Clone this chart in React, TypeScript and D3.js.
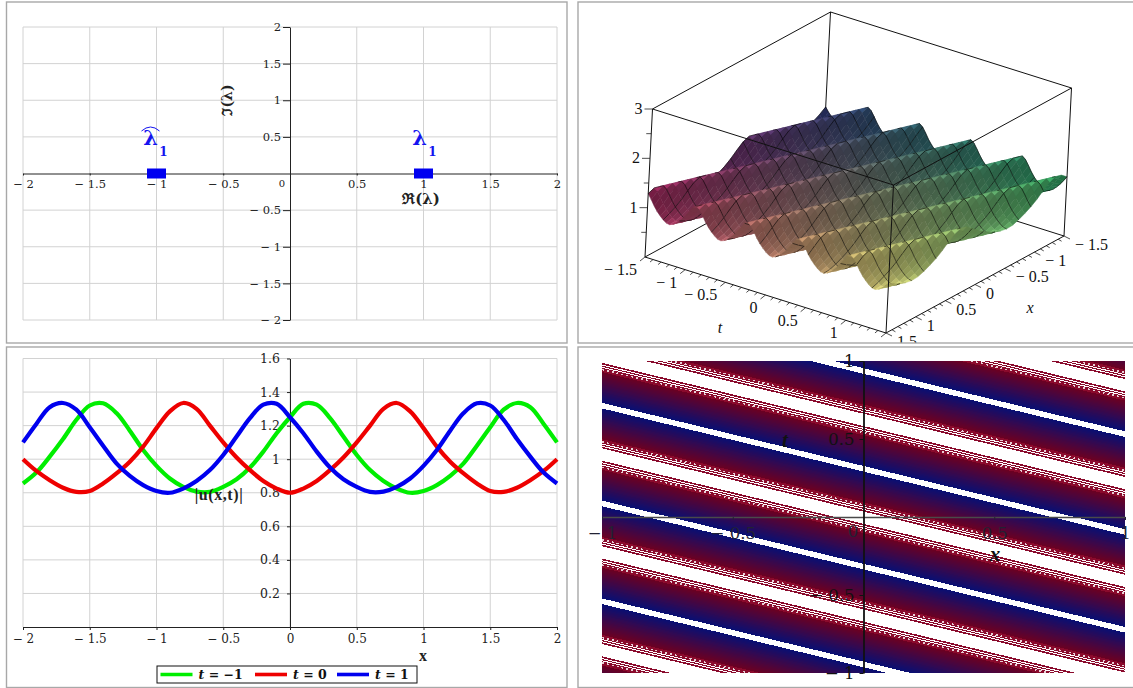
import React from "react";
import * as d3 from "d3";

// panel 1: eigenvalues in the complex plane
const planeTicks = [-2, -1.5, -1, -0.5, 0.5, 1, 1.5, 2];
const eigenRe = [-1, 1];
const eigenIm = [0, 0];

// panel 3: |u(x,t)|, x step 0.1
const xSamples = d3.range(41).map((i) => (i - 20) / 10);
const uGreen = [
  0.855, 0.92, 1.015, 1.12, 1.235, 1.32, 1.333, 1.275, 1.17, 1.055, 0.96, 0.885, 0.835, 0.807,
  0.805, 0.835, 0.88, 0.95, 1.045, 1.155, 1.25, 1.33, 1.325, 1.245, 1.135, 1.025, 0.935, 0.87,
  0.825, 0.8, 0.81, 0.845, 0.9, 0.975, 1.08, 1.19, 1.295, 1.335, 1.31, 1.21, 1.1,
];
const uRed = [
  1.0, 0.93, 0.875, 0.83, 0.805, 0.81, 0.855, 0.915, 0.985, 1.075, 1.185, 1.285, 1.335, 1.3, 1.2,
  1.1, 1.01, 0.935, 0.87, 0.825, 0.8, 0.825, 0.87, 0.935, 1.01, 1.1, 1.2, 1.3, 1.335, 1.285,
  1.185, 1.075, 0.985, 0.915, 0.855, 0.81, 0.805, 0.83, 0.875, 0.93, 1.0,
];
const uBlue = [
  1.1, 1.21, 1.31, 1.335, 1.295, 1.19, 1.08, 0.975, 0.9, 0.845, 0.81, 0.8, 0.825, 0.87, 0.935,
  1.025, 1.135, 1.245, 1.325, 1.33, 1.25, 1.155, 1.045, 0.95, 0.88, 0.835, 0.805, 0.807, 0.835,
  0.885, 0.96, 1.055, 1.17, 1.275, 1.333, 1.32, 1.235, 1.12, 1.015, 0.92, 0.855,
];
const curveTicksX = [-2, -1.5, -1, -0.5, 0, 0.5, 1, 1.5, 2];
const curveTicksY = [0.2, 0.4, 0.6, 0.8, 1, 1.2, 1.4, 1.6];
const legendLabels = ["−1", "0", "1"];
const legendColours = ["#00ee00", "#ee0000", "#0000ee"];

// panel 2: one wave cycle of the surface (grid lines of the wave, 16 steps across a ridge)
const surfaceCycle = [0.8, 0.825, 0.87, 0.935, 1.01, 1.1, 1.2, 1.3, 1.335, 1.285, 1.185, 1.075, 0.985, 0.915, 0.855, 0.81];
const surfaceXStep = 0.1;
const surfaceTStep = 0.04;
const surfaceCycleStart = 11;
const boxTicksT = [-1.5, -1, -0.5, 0, 0.5, 1];
const boxTicksX = [-1.5, -1, -0.5, 0, 0.5, 1, 1.5];
const boxTicksZ = [1, 2, 3];
// colours at t-/x-, t-/x+, t+/x-, t+/x+
const cornerColours = ["#2f3a78", "#a5285f", "#2fa765", "#dcd878"];

// panel 4: contour stripes, t of each thin white crest at x = -1
const crestT = [-1.167, -0.54, 0.087, 0.714, 1.341, 1.968];
const crestSlope = 0.405;
const gradientEdges = [0.018, 0.215];
const fringeEdge = 0.274;
const fringeWhite = [0.232, 0.246, 0.26];
const contourTicks = [-1, -0.5, 0.5, 1];

const fmt = (d: d3.NumberValue) => {
  const v = +d;
  return v < 0 ? `− ${Math.abs(v)}` : `${v}`;
};

const serif = "'DejaVu Serif', serif";
const liberation = "'Liberation Serif', serif";

function frame(svg: any, x: number, y: number, w: number, h: number) {
  svg
    .append("rect")
    .attr("x", x)
    .attr("y", y)
    .attr("width", w)
    .attr("height", h)
    .attr("fill", "none")
    .attr("stroke", "#a8a8a8")
    .attr("stroke-width", 1.4);
}

function grid(g: any, xs: number[], ys: number[], x: any, y: any) {
  const [x0, x1] = x.range();
  const [y0, y1] = y.range();
  xs.forEach((v) =>
    g.append("line").attr("x1", x(v)).attr("x2", x(v)).attr("y1", y0).attr("y2", y1).attr("stroke", "#d2d2d2").attr("stroke-width", 1)
  );
  ys.forEach((v) =>
    g.append("line").attr("x1", x0).attr("x2", x1).attr("y1", y(v)).attr("y2", y(v)).attr("stroke", "#d2d2d2").attr("stroke-width", 1)
  );
}

function styleAxis(a: any, family: string, size: number, colour = "#222") {
  a.selectAll("path").attr("stroke", colour);
  a.selectAll("line").attr("stroke", colour);
  a.selectAll("text").attr("font-family", family).attr("font-size", size).attr("fill", colour);
}

function drawPlane(svg: any) {
  const x = d3.scaleLinear().domain([-2, 2]).range([23, 557]);
  const y = d3.scaleLinear().domain([-2, 2]).range([320, 27]);
  const g = svg.append("g");
  grid(g, planeTicks, planeTicks, x, y);

  const ax = g
    .append("g")
    .attr("transform", `translate(0,${y(0)})`)
    .call(d3.axisBottom(x).tickValues(planeTicks).tickFormat(fmt).tickSize(2).tickSizeOuter(0).tickPadding(4));
  styleAxis(ax, serif, 11.5);
  const ay = g
    .append("g")
    .attr("transform", `translate(${x(0)},0)`)
    .call(d3.axisLeft(y).tickValues(planeTicks).tickFormat(fmt).tickSize(7).tickSizeOuter(0).tickPadding(2));
  styleAxis(ay, serif, 11.5);
  g.append("text").attr("x", 282).attr("y", 187).attr("text-anchor", "middle").attr("font-family", serif).attr("font-size", 10).attr("fill", "#222").text("0");

  eigenRe.forEach((re, i) => {
    g.append("rect")
      .attr("x", x(re) - 9.5)
      .attr("y", y(eigenIm[i]) - 5)
      .attr("width", 19)
      .attr("height", 10)
      .attr("fill", "#0000f0");
  });

  const lambda = (cx: number, hat: boolean) => {
    g.append("text").attr("x", cx).attr("y", 145).attr("text-anchor", "middle").attr("font-family", serif).attr("font-weight", "bold").attr("font-size", 21).attr("fill", "#1414f0").text("λ");
    g.append("text").attr("x", cx + 13).attr("y", 156).attr("text-anchor", "middle").attr("font-family", serif).attr("font-weight", "bold").attr("font-size", 12).attr("fill", "#1414f0").text("1");
    if (hat) {
      g.append("path").attr("d", `M${cx - 9},131 Q${cx},123 ${cx + 9},131`).attr("fill", "none").attr("stroke", "#1414f0").attr("stroke-width", 1);
    }
  };
  lambda(x(-1) - 6, true);
  lambda(x(1) - 4, false);

  g.append("text").attr("x", 421).attr("y", 204).attr("text-anchor", "middle").attr("font-family", serif).attr("font-weight", "bold").attr("font-size", 15).attr("fill", "#222").text("ℜ(λ)");
  g.append("text")
    .attr("transform", "translate(232,100) rotate(-90)")
    .attr("text-anchor", "middle")
    .attr("font-family", serif)
    .attr("font-weight", "bold")
    .attr("font-size", 14)
    .attr("fill", "#222")
    .text("ℑ(λ)");
}

function drawSurface(svg: any) {
  const clip = svg.append("clipPath").attr("id", "box-clip");
  clip.append("rect").attr("x", 578).attr("y", 2).attr("width", 555).attr("height", 341);
  const g = svg.append("g").attr("clip-path", "url(#box-clip)");

  // the box is a parallel projection, so three edge scales are enough
  const tn = d3.scaleLinear().domain([-1.5, 1.5]).range([0, 1]);
  const xn = d3.scaleLinear().domain([1.5, -1.5]).range([0, 1]);
  const zn = d3.scaleLinear().domain([0, 3]).range([0, 1]);
  const project = (t: number, x: number, z: number): [number, number] => [
    645 + 241 * tn(t) + 178 * xn(x) + 7.5 * zn(z),
    257 + 76 * tn(t) - 97 * xn(x) - 148 * zn(z),
  ];
  const edge = (a: number[], b: number[], w = 1) => {
    const p = project(a[0], a[1], a[2]);
    const q = project(b[0], b[1], b[2]);
    g.append("line").attr("x1", p[0]).attr("y1", p[1]).attr("x2", q[0]).attr("y2", q[1]).attr("stroke", "#111").attr("stroke-width", w);
  };

  // back edges go under the surface
  edge([-1.5, -1.5, 0], [-1.5, -1.5, 3]);
  edge([-1.5, -1.5, 0], [-1.5, 1.5, 0]);
  edge([-1.5, -1.5, 0], [1.5, -1.5, 0]);
  edge([-1.5, -1.5, 3], [-1.5, 1.5, 3]);
  edge([-1.5, -1.5, 3], [1.5, -1.5, 3]);

  const nx = Math.round(3 / surfaceXStep);
  const nt = Math.round(3 / surfaceTStep);
  const xAt = (i: number) => -1.5 + i * surfaceXStep;
  const tAt = (j: number) => -1.5 + j * surfaceTStep;
  const zAt = (i: number, j: number) => surfaceCycle[(i + j + surfaceCycleStart) % surfaceCycle.length];
  const leftEdge = d3.interpolateRgb(cornerColours[0], cornerColours[1]);
  const rightEdge = d3.interpolateRgb(cornerColours[2], cornerColours[3]);
  const line = d3.line();

  const cells = g.append("g");
  for (let i = 0; i < nx; i++) {
    for (let j = 0; j < nt; j++) {
      const pts = [
        project(tAt(j), xAt(i), zAt(i, j)),
        project(tAt(j), xAt(i + 1), zAt(i + 1, j)),
        project(tAt(j + 1), xAt(i + 1), zAt(i + 1, j + 1)),
        project(tAt(j + 1), xAt(i), zAt(i, j + 1)),
      ];
      const u = (i + 0.5) / nx;
      const v = (j + 0.5) / nt;
      const base = d3.rgb(d3.interpolateRgb(leftEdge(u), rightEdge(u))(v));
      const dz = Math.abs(zAt(i + 1, j + 1) - zAt(i, j));
      const shade = 0.66 + 0.42 * Math.pow(1 - Math.min(dz / 0.24, 1), 2);
      const fill = d3.rgb(base.r * shade, base.g * shade, base.b * shade).formatHex();
      cells.append("path").attr("d", line(pts) + "Z").attr("fill", fill).attr("stroke", fill).attr("stroke-width", 0.5);
      if (j % 5 === 0) {
        cells.append("path").attr("d", line([pts[0], pts[1]])).attr("fill", "none").attr("stroke", "rgba(0,0,0,0.7)").attr("stroke-width", 0.8);
      }
      if (i % 2 === 0) {
        cells.append("path").attr("d", line([pts[0], pts[3]])).attr("fill", "none").attr("stroke", "rgba(0,0,0,0.7)").attr("stroke-width", 0.8);
      }
    }
  }

  // front edges on top
  edge([1.5, 1.5, 0], [1.5, 1.5, 3]);
  edge([-1.5, 1.5, 0], [-1.5, 1.5, 3]);
  edge([1.5, -1.5, 0], [1.5, -1.5, 3]);
  edge([-1.5, 1.5, 3], [1.5, 1.5, 3]);
  edge([1.5, 1.5, 3], [1.5, -1.5, 3]);
  edge([-1.5, 1.5, 0], [1.5, 1.5, 0]);
  edge([1.5, 1.5, 0], [1.5, -1.5, 0]);

  const label = (s: string, x: number, y: number, anchor: string, italic = false) =>
    g
      .append("text")
      .attr("x", x)
      .attr("y", y)
      .attr("text-anchor", anchor)
      .attr("font-family", liberation)
      .attr("font-style", italic ? "italic" : "normal")
      .attr("font-size", 16)
      .attr("fill", "#111")
      .text(s);

  // minor ticks every 0.1 along the floor edges
  d3.range(-15, 16).forEach((k) => {
    const v = k / 10;
    const major = k % 5 === 0;
    const p = project(v, 1.5, 0);
    g.append("line").attr("x1", p[0]).attr("y1", p[1]).attr("x2", p[0] - (major ? 5 : 3)).attr("y2", p[1] + (major ? 4 : 2.5)).attr("stroke", "#222").attr("stroke-width", 0.8);
    const q = project(1.5, v, 0);
    g.append("line").attr("x1", q[0]).attr("y1", q[1]).attr("x2", q[0] + (major ? 6 : 3.5)).attr("y2", q[1] + (major ? 3 : 2)).attr("stroke", "#222").attr("stroke-width", 0.8);
  });
  boxTicksT.forEach((t) => {
    const p = project(t, 1.5, 0);
    label(fmt(t), p[0] - 8, p[1] + 18, "end");
  });
  boxTicksX.forEach((x) => {
    const p = project(1.5, x, 0);
    label(fmt(x), p[0] + 11, p[1] + 14, "start");
  });
  [0.5, 1, 1.5, 2, 2.5, 3].forEach((z) => {
    const p = project(-1.5, 1.5, z);
    const major = boxTicksZ.includes(z);
    g.append("line").attr("x1", p[0]).attr("y1", p[1]).attr("x2", p[0] - (major ? 8 : 5)).attr("y2", p[1]).attr("stroke", "#222").attr("stroke-width", 0.8);
    if (major) label(fmt(z), p[0] - 10, p[1] + 5, "end");
  });
  label("t", 720, 333, "middle", true);
  label("x", 1030, 313, "middle", true);
}

function drawCurves(svg: any) {
  const x = d3.scaleLinear().domain([-2, 2]).range([23, 557]);
  const y = d3.scaleLinear().domain([0, 1.6]).range([627, 358.5]);
  const g = svg.append("g");
  grid(g, curveTicksX, curveTicksY, x, y);

  const ax = g
    .append("g")
    .attr("transform", `translate(0,${y(0)})`)
    .call(d3.axisBottom(x).tickValues(curveTicksX).tickFormat(fmt).tickSize(3).tickSizeOuter(0).tickPadding(4));
  styleAxis(ax, serif, 12);
  const ay = g
    .append("g")
    .attr("transform", `translate(${x(0)},0)`)
    .call(d3.axisLeft(y).tickValues(curveTicksY).tickFormat(fmt).tickSize(3).tickSizeOuter(0).tickPadding(7));
  styleAxis(ay, serif, 12.5);

  const line = d3
    .line<number>()
    .x((_, i) => x(xSamples[i]))
    .y((d) => y(d))
    .curve(d3.curveCatmullRom);
  [uGreen, uRed, uBlue].forEach((vals, i) => {
    g.append("path").attr("d", line(vals)).attr("fill", "none").attr("stroke", legendColours[i]).attr("stroke-width", 4.2);
  });

  g.append("text").attr("x", 219).attr("y", 500).attr("text-anchor", "middle").attr("font-family", liberation).attr("font-weight", "bold").attr("font-size", 16).attr("letter-spacing", 0.6).attr("fill", "#222").text("|u(x,t)|");
  g.append("text").attr("x", 423).attr("y", 661).attr("text-anchor", "middle").attr("font-family", liberation).attr("font-weight", "bold").attr("font-size", 16).attr("fill", "#222").text("x");

  const legend = g.append("g");
  legend.append("rect").attr("x", 157).attr("y", 666).attr("width", 260).attr("height", 17).attr("fill", "#fff").attr("stroke", "#111").attr("stroke-width", 1);
  const swatchX = [160.5, 255, 337];
  legendLabels.forEach((lab, i) => {
    legend.append("line").attr("x1", swatchX[i]).attr("x2", swatchX[i] + 32).attr("y1", 674.5).attr("y2", 674.5).attr("stroke", legendColours[i]).attr("stroke-width", 3.6);
    const t = legend.append("text").attr("x", swatchX[i] + 38).attr("y", 679).attr("font-family", serif).attr("font-size", 12.5).attr("font-weight", "bold").attr("fill", "#111").attr("xml:space", "preserve");
    t.append("tspan").attr("font-style", "italic").text("t");
    t.append("tspan").text(` = ${lab}`);
  });
}

function drawContour(svg: any) {
  const x = d3.scaleLinear().domain([-1, 1]).range([602, 1125]);
  const t = d3.scaleLinear().domain([-1, 1]).range([673, 361]);
  const clip = svg.append("clipPath").attr("id", "contour-clip");
  clip.append("rect").attr("x", 602).attr("y", 361).attr("width", 523).attr("height", 312);
  const g = svg.append("g");
  const bands = g.append("g").attr("clip-path", "url(#contour-clip)").attr("shape-rendering", "crispEdges");

  const tone = d3.scaleLinear<string>().domain(gradientEdges).range(["#0a0f72", "#6e0020"]).interpolate(d3.interpolateRgb);
  const levels = d3.range(gradientEdges[0], gradientEdges[1], 0.008);
  const strip = (c: number, a: number, b: number) => {
    const p0 = [x(-1), t(c + a)];
    const p1 = [x(1), t(c + a - 2 * crestSlope)];
    const p2 = [x(1), t(c + b - 2 * crestSlope)];
    const p3 = [x(-1), t(c + b)];
    return `M${p0}L${p1}L${p2}L${p3}Z`;
  };
  crestT.forEach((c) => {
    [1, -1].forEach((side) => {
      levels.forEach((lv) => {
        bands.append("path").attr("d", strip(c, side * lv, side * (lv + 0.0095))).attr("fill", tone(lv));
      });
      bands.append("path").attr("d", strip(c, side * gradientEdges[1], side * fringeEdge)).attr("fill", "#8a0a2c");
      fringeWhite.forEach((w, k) => {
        const off = side * w;
        const ln = bands
          .append("line")
          .attr("x1", x(-1))
          .attr("x2", x(1))
          .attr("y1", t(c + off))
          .attr("y2", t(c + off - 2 * crestSlope))
          .attr("stroke", "#fff")
          .attr("stroke-width", 1);
        if (k === 0) ln.attr("stroke-dasharray", "2 3").attr("stroke-width", 1.6).attr("opacity", 0.8);
      });
    });
  });

  const ax = g
    .append("g")
    .attr("transform", `translate(0,${t(0)})`)
    .call(d3.axisBottom(x).tickValues(contourTicks).tickFormat(fmt).tickSize(3).tickSizeOuter(0).tickPadding(7));
  styleAxis(ax, serif, 16.5, "#223");
  ax.select("path").attr("stroke", "#4a4a4a").attr("stroke-width", 1.3);
  const ay = g
    .append("g")
    .attr("transform", `translate(${x(0)},0)`)
    .call(d3.axisLeft(t).tickValues(contourTicks).tickFormat(fmt).tickSize(4).tickSizeOuter(0).tickPadding(5));
  styleAxis(ay, serif, 16.5, "#111");
  ay.select("path").attr("stroke-width", 1.8);
  g.append("text").attr("x", 853).attr("y", 537).attr("text-anchor", "middle").attr("font-family", serif).attr("font-size", 16.5).attr("fill", "#223").text("0");
  g.append("text").attr("x", 785).attr("y", 447).attr("text-anchor", "middle").attr("font-family", liberation).attr("font-style", "italic").attr("font-weight", "bold").attr("font-size", 21).attr("fill", "#111").text("t");
  g.append("text").attr("x", 995).attr("y", 561).attr("text-anchor", "middle").attr("font-family", liberation).attr("font-style", "italic").attr("font-weight", "bold").attr("font-size", 21).attr("fill", "#111").text("x");
}

const App: React.FC = () => {
  const svgRef = React.useRef<SVGSVGElement | null>(null);

  React.useEffect(() => {
    if (!svgRef.current) return;
    const svg = d3.select(svgRef.current);
    svg.selectAll("*").remove();
    drawPlane(svg);
    drawSurface(svg);
    drawCurves(svg);
    drawContour(svg);
    frame(svg, 6.5, 2, 560.5, 341);
    frame(svg, 578, 2, 556, 341);
    frame(svg, 6.5, 347, 560.5, 340.5);
    frame(svg, 578, 347, 556, 340.5);
  }, []);

  return (
    <svg
      ref={svgRef}
      width={1133}
      height={688}
      style={{ position: "absolute", left: 0, top: 0, background: "#fff" }}
    ></svg>
  );
};

export default App;
